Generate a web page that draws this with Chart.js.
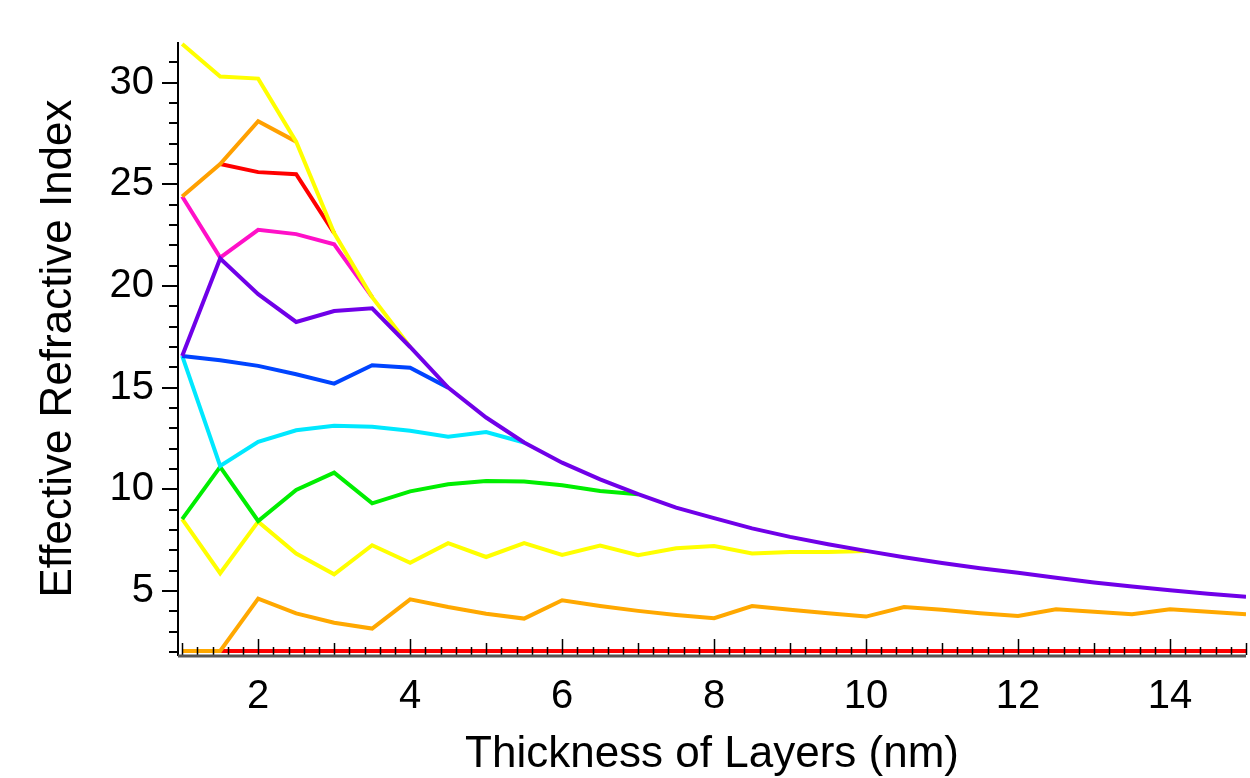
<!DOCTYPE html>
<html>
<head>
<meta charset="utf-8">
<script src="https://cdn.jsdelivr.net/npm/chart.js@4.4.1/dist/chart.umd.min.js"></script>
<style>
  html, body { margin: 0; padding: 0; background: #fff; }
  #wrap { width: 1250px; height: 778px; }
</style>
</head>
<body>
<div id="wrap"><canvas id="myChart"></canvas></div>
<script>
// layer thickness (nm), sampled every 0.5 nm
const thickness = [1, 1.5, 2, 2.5, 3, 3.5, 4, 4.5, 5, 5.5, 6, 6.5, 7, 7.5, 8,
  8.5, 9, 9.5, 10, 10.5, 11, 11.5, 12, 12.5, 13, 13.5, 14, 14.5, 15];

const xTickLabels = [2, 4, 6, 8, 10, 12, 14];
const yTickLabels = [5, 10, 15, 20, 25, 30];

// effective index per curve; a curve stops where it merges into the purple envelope
const purple = [16.56, 21.35, 19.6, 18.23, 18.77, 18.9, 17.0, 15.0, 13.53, 12.3, 11.31, 10.49,
  9.76, 9.1, 8.58, 8.08, 7.66, 7.3, 6.97, 6.66, 6.38, 6.12, 5.9, 5.65, 5.42, 5.22, 5.03, 4.86, 4.72];
const blue = [16.56, 16.35, 16.07, 15.66, 15.2, 16.1, 15.98, 15.0];
const cyan = [16.56, 11.15, 12.34, 12.9, 13.12, 13.08, 12.88, 12.59, 12.82, 12.3];
const green = [8.53, 11.1, 8.44, 9.97, 10.82, 9.31, 9.9, 10.25, 10.41, 10.38, 10.2, 9.92, 9.76];
const yellowLow = [8.53, 5.87, 8.41, 6.84, 5.82, 7.25, 6.39, 7.35, 6.67, 7.35, 6.77, 7.23, 6.76,
  7.1, 7.21, 6.84, 6.92, 6.92, 6.97];
const orangeLow = [2.05, 2.05, 4.62, 3.9, 3.44, 3.15, 4.59, 4.21, 3.88, 3.64, 4.54, 4.26, 4.02,
  3.82, 3.66, 4.26, 4.07, 3.9, 3.74, 4.21, 4.07, 3.9, 3.77, 4.1, 3.98, 3.85, 4.1, 3.98, 3.85];
const redLow = [2.05, 2.05, 2.05, 2.05, 2.05, 2.05, 2.05, 2.05, 2.05, 2.05, 2.05, 2.05, 2.05,
  2.05, 2.05, 2.05, 2.05, 2.05, 2.05, 2.05, 2.05, 2.05, 2.05, 2.05, 2.05, 2.05, 2.05, 2.05, 2.05];
const yellowTop = [31.9, 30.3, 30.2, 27.1, 22.6, 19.45, 17.0];
const orangeTop = [24.4, 26.0, 28.1, 27.1];
const redTop = [null, 26.0, 25.6, 25.5, 22.6];
const magenta = [24.4, 21.4, 22.76, 22.55, 22.05, 19.45];

function toPoints(values) {
  return values.map((v, i) => ({ x: thickness[i], y: v }));
}

// first entry is drawn on top
const curves = [
  [purple, '#7000e8'],
  [blue, '#0044ff'],
  [cyan, '#00e8ff'],
  [green, '#00ee00'],
  [yellowLow, '#ffff00'],
  [orangeLow, '#ffa800'],
  [redLow, '#ff0000'],
  [yellowTop, '#ffff00'],
  [orangeTop, '#ffa000'],
  [redTop, '#ff0000'],
  [magenta, '#ff10c8']
];

const FONT = "'Liberation Sans', Arial, sans-serif";

// axis lines and tick marks, drawn over the curves
const axisTicks = {
  id: 'axisTicks',
  afterDatasetsDraw(chart) {
    const { ctx, chartArea: a, scales: { x, y } } = chart;
    ctx.save();
    ctx.strokeStyle = '#000';
    ctx.lineWidth = 2;
    ctx.beginPath();
    for (let v = 2; v <= 31; v++) {
      const py = Math.round(y.getPixelForValue(v));
      const len = v % 5 === 0 ? 16 : 9;
      ctx.moveTo(a.left - len, py);
      ctx.lineTo(a.left, py);
    }
    ctx.stroke();

    ctx.lineWidth = 1.5;
    ctx.beginPath();
    for (let k = 0; k <= 70; k++) {
      const v = 1 + k * 0.2;
      const px = Math.round(x.getPixelForValue(v)) + 0.5;
      let len = 8;
      if (k % 5 === 0) len = (Math.round(v) % 2 === 0) ? 16 : 12;
      ctx.moveTo(px, a.bottom);
      ctx.lineTo(px, a.bottom - len);
    }
    ctx.stroke();

    ctx.lineWidth = 2;
    ctx.beginPath();
    ctx.moveTo(a.left, a.top);
    ctx.lineTo(a.left, a.bottom + 1);
    ctx.stroke();

    ctx.strokeStyle = '#555';
    ctx.lineWidth = 3;
    ctx.beginPath();
    ctx.moveTo(a.left, a.bottom + 1);
    ctx.lineTo(a.right, a.bottom + 1);
    ctx.stroke();
    ctx.restore();
  }
};

new Chart(document.getElementById('myChart'), {
  type: 'line',
  data: {
    datasets: curves.map(([vals, color]) => ({
      data: toPoints(vals),
      borderColor: color,
      borderWidth: 4,
      pointRadius: 0,
      tension: 0,
      fill: false
    }))
  },
  options: {
    responsive: true,
    maintainAspectRatio: false,
    animation: false,
    layout: { padding: { top: 42, right: 4, left: 0, bottom: 0 } },
    plugins: {
      legend: { display: false },
      tooltip: { enabled: false }
    },
    scales: {
      x: {
        type: 'linear',
        min: 0.945,
        max: 15,
        grid: { display: false },
        border: { display: false },
        afterBuildTicks: s => { s.ticks = xTickLabels.map(v => ({ value: v })); },
        afterFit: s => { s.height = 123; },
        ticks: {
          autoSkip: false,
          maxRotation: 0,
          padding: 10,
          color: '#000',
          font: { family: FONT, size: 40 }
        },
        title: {
          display: true,
          text: 'Thickness of Layers (nm)',
          color: '#000',
          font: { family: FONT, size: 44, lineHeight: 1 },
          padding: { top: 0, bottom: 1 }
        }
      },
      y: {
        min: 1.85,
        max: 32,
        grid: { display: false },
        border: { display: false },
        afterBuildTicks: s => { s.ticks = yTickLabels.map(v => ({ value: v })); },
        afterFit: s => { s.width = 178; },
        ticks: {
          autoSkip: false,
          padding: 16,
          color: '#000',
          font: { family: FONT, size: 40 }
        },
        title: {
          display: true,
          text: 'Effective Refractive Index',
          color: '#000',
          font: { family: FONT, size: 44, lineHeight: 1 },
          padding: { top: 37, bottom: 0 }
        }
      }
    }
  },
  plugins: [axisTicks]
});
</script>
</body>
</html>
